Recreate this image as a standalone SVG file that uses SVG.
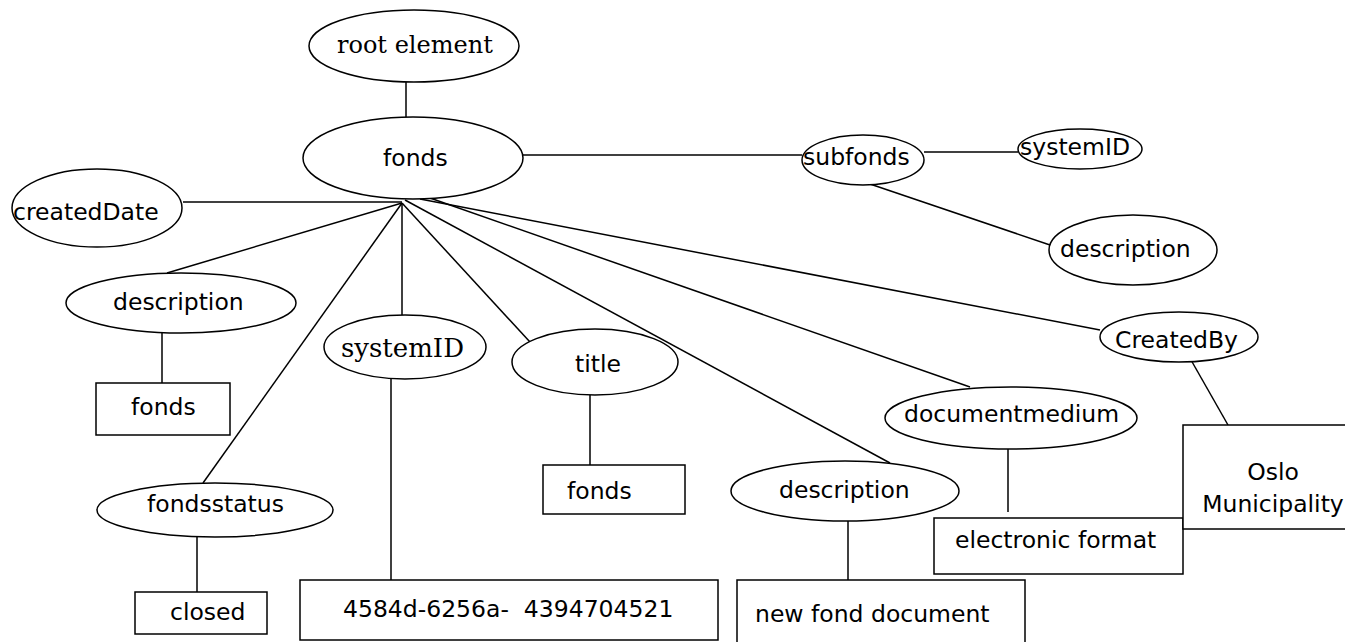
<svg xmlns="http://www.w3.org/2000/svg" width="1345" height="642" viewBox="0 0 1345 642">
<style>
  .n { fill: #ffffff; stroke: #000000; stroke-width: 1.5; }
  .c line { stroke: #000000; stroke-width: 1.5; }
  .t { font-family: "DejaVu Sans", "Liberation Sans", sans-serif; font-size: 23.5px; fill: #000000; }
  .s { font-family: "DejaVu Serif", "Liberation Serif", serif; fill: #000000; }
</style>
<rect x="0" y="0" width="1345" height="642" fill="#ffffff"/>
<g class="c" id="connectors">
  <line x1="406" y1="82" x2="406" y2="117"/>
  <line x1="523" y1="155" x2="802" y2="155"/>
  <line x1="924" y1="152" x2="1018" y2="152"/>
  <line x1="870" y1="184" x2="1050" y2="245"/>
  <line x1="183" y1="202" x2="402" y2="202"/>
  <line x1="402" y1="203" x2="167" y2="273"/>
  <line x1="402" y1="203" x2="203" y2="483"/>
  <line x1="402" y1="203" x2="402" y2="315"/>
  <line x1="402" y1="203" x2="530" y2="342"/>
  <line x1="405" y1="200" x2="890" y2="463"/>
  <line x1="430" y1="198" x2="970" y2="387"/>
  <line x1="420" y1="199" x2="1100" y2="330"/>
  <line x1="162" y1="333" x2="162" y2="383"/>
  <line x1="197" y1="537" x2="197" y2="592"/>
  <line x1="391" y1="379" x2="391" y2="580"/>
  <line x1="590" y1="395" x2="590" y2="465"/>
  <line x1="848" y1="521" x2="848" y2="580"/>
  <line x1="1008" y1="449" x2="1008" y2="512"/>
  <line x1="1191" y1="360" x2="1228" y2="425"/>
</g>
<g id="root-element">
  <ellipse class="n" cx="414" cy="46" rx="105" ry="36"/>
  <text class="s" x="337" y="53" font-size="24">root element</text>
</g>
<g id="fonds">
  <ellipse class="n" cx="413" cy="158" rx="110" ry="41"/>
  <text class="t" x="383" y="166">fonds</text>
</g>
<g id="createdDate">
  <ellipse class="n" cx="97" cy="208" rx="85" ry="39"/>
  <text class="t" x="13" y="220">createdDate</text>
</g>
<g id="subfonds">
  <ellipse class="n" cx="863" cy="160" rx="61" ry="25"/>
  <text class="t" x="803" y="165">subfonds</text>
</g>
<g id="subfonds-systemID">
  <ellipse class="n" cx="1080" cy="149" rx="62" ry="20"/>
  <text class="t" x="1020" y="155">systemID</text>
</g>
<g id="subfonds-description">
  <ellipse class="n" cx="1133" cy="250" rx="84" ry="35"/>
  <text class="t" x="1060" y="257">description</text>
</g>
<g id="description-left">
  <ellipse class="n" cx="181" cy="303" rx="115" ry="30"/>
  <text class="t" x="113" y="310">description</text>
</g>
<g id="description-left-value">
  <rect class="n" x="96" y="383" width="134" height="52"/>
  <text class="t" x="131" y="415">fonds</text>
</g>
<g id="systemID">
  <ellipse class="n" cx="405" cy="347" rx="81" ry="32"/>
  <text class="s" x="341" y="357" font-size="26">systemID</text>
</g>
<g id="systemID-value">
  <rect class="n" x="300" y="580" width="418" height="60"/>
  <text class="t" x="343" y="617" xml:space="preserve">4584d-6256a-  4394704521</text>
</g>
<g id="title">
  <ellipse class="n" cx="595" cy="362" rx="83" ry="33"/>
  <text class="t" x="575" y="372">title</text>
</g>
<g id="title-value">
  <rect class="n" x="543" y="465" width="142" height="49"/>
  <text class="t" x="567" y="499">fonds</text>
</g>
<g id="fondsstatus">
  <ellipse class="n" cx="215" cy="510" rx="118" ry="27"/>
  <text class="t" x="147" y="512">fondsstatus</text>
</g>
<g id="fondsstatus-value">
  <rect class="n" x="135" y="592" width="132" height="42"/>
  <text class="t" x="170" y="620">closed</text>
</g>
<g id="description-middle">
  <ellipse class="n" cx="845" cy="491" rx="114" ry="30"/>
  <text class="t" x="779" y="498">description</text>
</g>
<g id="description-middle-value">
  <rect class="n" x="737" y="580" width="288" height="66"/>
  <text class="t" x="755" y="622">new fond document</text>
</g>
<g id="documentmedium">
  <ellipse class="n" cx="1011" cy="418" rx="126" ry="31"/>
  <text class="t" x="904" y="422">documentmedium</text>
</g>
<g id="documentmedium-value">
  <rect class="n" x="934" y="518" width="249" height="56"/>
  <text class="t" x="955" y="548">electronic format</text>
</g>
<g id="CreatedBy">
  <ellipse class="n" cx="1179" cy="337" rx="79" ry="25"/>
  <text class="t" x="1115" y="348">CreatedBy</text>
</g>
<g id="CreatedBy-value">
  <rect class="n" x="1183" y="425" width="164" height="104"/>
  <text class="t" x="1273" y="480" text-anchor="middle">Oslo</text>
  <text class="t" x="1273" y="512" text-anchor="middle">Municipality</text>
</g>
</svg>
